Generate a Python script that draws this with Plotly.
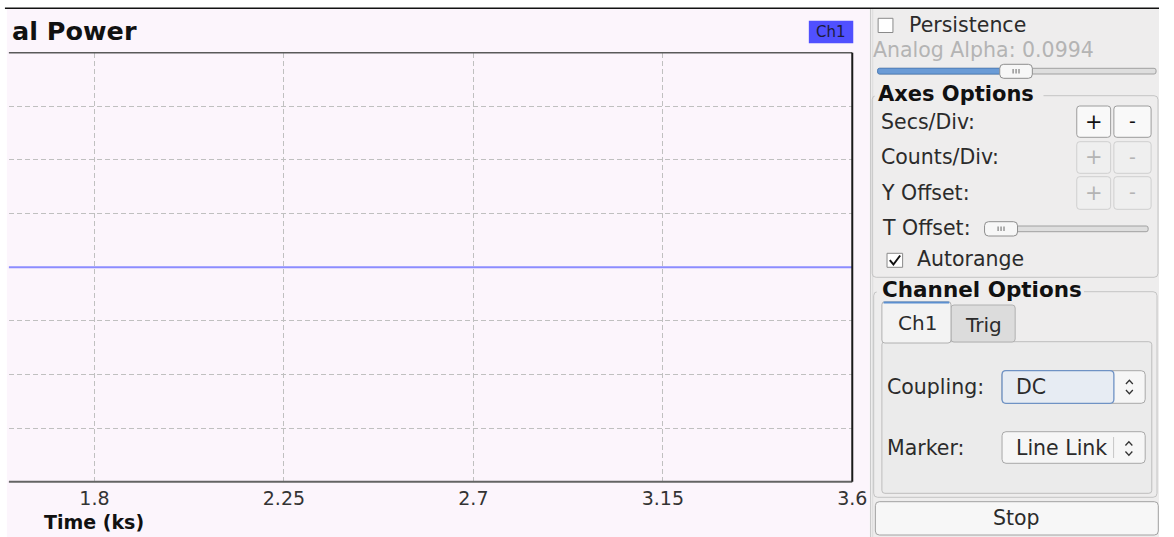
import plotly.graph_objects as go

# ---------------- data ----------------
t_ks = [0.0, 0.45, 0.9, 1.35, 1.8, 2.25, 2.7, 3.15, 3.6]
power = [0.0, 0.0, 0.0, 0.0, 0.0, 0.0, 0.0, 0.0, 0.0]
x_ticks = [1.8, 2.25, 2.7, 3.15, 3.6]
x_tick_labels = ["1.8", "2.25", "2.7", "3.15", "3.6"]
title_text = "al Power"
x_title = "Time (ks)"
legend_name = "Ch1"

W, H = 1174, 537
FONT = "DejaVu Sans"
PINK = "#fcf5fc"
GRAY = "#eeeded"
TXT = "#2b2b2b"
DIS = "#b4b4b4"


def px(x):
    return x / W


def py(y):
    return 1 - y / H


shapes = []
annos = []


def rect(x0, y0, x1, y1, fill=None, line=None, lw=1, layer="above"):
    shapes.append(dict(type="rect", xref="paper", yref="paper",
                       x0=px(x0), x1=px(x1), y0=py(y1), y1=py(y0),
                       fillcolor=fill or "rgba(0,0,0,0)",
                       line=dict(color=line or "rgba(0,0,0,0)", width=lw if line else 0),
                       layer=layer))


def rrect(x0, y0, x1, y1, r=3, fill=None, line="#a8a8a8", lw=1, layer="above"):
    p = (f"M {px(x0 + r)},{py(y0)} L {px(x1 - r)},{py(y0)} Q {px(x1)},{py(y0)} {px(x1)},{py(y0 + r)} "
         f"L {px(x1)},{py(y1 - r)} Q {px(x1)},{py(y1)} {px(x1 - r)},{py(y1)} "
         f"L {px(x0 + r)},{py(y1)} Q {px(x0)},{py(y1)} {px(x0)},{py(y1 - r)} "
         f"L {px(x0)},{py(y0 + r)} Q {px(x0)},{py(y0)} {px(x0 + r)},{py(y0)} Z")
    shapes.append(dict(type="path", xref="paper", yref="paper", path=p,
                       fillcolor=fill or "rgba(0,0,0,0)",
                       line=dict(color=line, width=lw), layer=layer))


def poly(pts, color, lw=1.2, closed=False):
    p = "M " + " L ".join(f"{px(a)},{py(b)}" for a, b in pts)
    if closed:
        p += " Z"
    shapes.append(dict(type="path", xref="paper", yref="paper", path=p,
                       line=dict(color=color, width=lw), layer="above"))


def hline(x0, x1, y, color, lw=1, layer="above"):
    shapes.append(dict(type="line", xref="paper", yref="paper", x0=px(x0), x1=px(x1),
                       y0=py(y), y1=py(y), line=dict(color=color, width=lw), layer=layer))


def vline(x, y0, y1, color, lw=1, layer="above"):
    shapes.append(dict(type="line", xref="paper", yref="paper", x0=px(x), x1=px(x),
                       y0=py(y0), y1=py(y1), line=dict(color=color, width=lw), layer=layer))


def text(x, y, s, size=20.5, color=TXT, bold=False, anchor="left", bg=None):
    a = dict(xref="paper", yref="paper", x=px(x), y=py(y), text=s, showarrow=False,
             xanchor=anchor, yanchor="middle",
             font=dict(family=FONT, size=size, color=color,
                       weight="bold" if bold else "normal"))
    if bg:
        a["bgcolor"] = bg
    annos.append(a)


# ---------------- backgrounds ----------------
rect(7, 9, 881, 537, fill=PINK, layer="below")
rect(881, 9, 1174, 537, fill=GRAY, layer="below")
hline(5, 1174, 8.3, "#111111", 1.5)
vline(881.8, 9, 537, "#c9c9c9", 1)
vline(884, 9, 537, "#dcdcdc", 1)

# ---------------- chart frame ----------------
PL, PR, PT, PB = 9, 863.3, 52.7, 481.7
hline(PL, PR, PT, "#5a5a5a", 1.5)
hline(PL, PR, PB, "#646464", 2)
vline(PR, PT, PB, "#1a1a1a", 2)

# title, legend tag, axis title
text(141, 31, title_text, size=25.5, color="#111111", bold=True, anchor="right")
rect(819.3, 20.7, 864.3, 43.3, fill="#5050ff")
text(842, 32, legend_name, size=15, color="#1c1c3c", anchor="center")
text(95, 522, x_title, size=19, color="#111111", bold=True, anchor="center")

# ---------------- right panel ----------------
# persistence
rect(889.5, 18.3, 904.5, 32.5, fill="#ffffff", line="#8a8a8a", lw=1)
text(919, 24.8, "Persistence")
text(882, 49.5, "Analog Alpha: 0.0994", color=DIS)
# alpha slider
rrect(889, 68.3, 1171, 74, r=2, fill="#dedede", line="#a0a0a0")
rrect(889, 68.3, 1015, 74, r=2, fill="#6a9bd6", line="#4f80bd")
rrect(1012.7, 64.3, 1045.7, 78.3, r=4, fill="#f7f7f7", line="#8e8e8e")
for dx in (-3, 0, 3):
    vline(1029.2 + dx, 69, 73.5, "#666666", 1)

# Axes Options group
rrect(883.5, 95.7, 1173, 277.3, r=4, fill=None, line="#c4c4c4")
rect(886, 86, 1057, 100, fill=GRAY)
text(887, 93.8, "Axes Options", size=21, color="#111111", bold=True)

rows = [(121.7, "Secs/Div:", True, 106, 137.3),
        (157.5, "Counts/Div:", False, 141.7, 173.3),
        (193.0, "Y Offset:", False, 176.7, 209.3)]
for yc, lab, enabled, y0, y1 in rows:
    text(890, yc, lab)
    bl = "#9c9c9c" if enabled else "#cfcfcf"
    bf = "#f9f9f9" if enabled else "#efefef"
    rrect(1090.7, y0, 1125, y1, r=3, fill=bf, line=bl)
    rrect(1128.3, y0, 1166, y1, r=3, fill=bf, line=bl)
    c = "#111111" if enabled else DIS
    text(1107.8, yc, "+", size=21, color=c, anchor="center")
    text(1147.1, yc - 1, "-", size=19, color=c, anchor="center")

text(891, 228, "T Offset:")
rrect(998, 226, 1163, 231.7, r=2, fill="#dedede", line="#a0a0a0")
rrect(997.3, 221.7, 1030.7, 236, r=4, fill="#f7f7f7", line="#8e8e8e")
for dx in (-3, 0, 3):
    vline(1014 + dx, 226.5, 231, "#666666", 1)

rect(898.5, 253.3, 914.3, 267.3, fill="#ffffff", line="#8a8a8a", lw=1)
poly([(901.3, 260.2), (905, 264.5), (911.8, 255.5)], "#111111", 2)
text(927, 258.6, "Autorange")

# Channel Options group
rrect(885, 291.7, 1172, 497.3, r=4, fill=None, line="#c4c4c4")
rect(888, 281, 1098, 297, fill=GRAY)
text(891, 289.7, "Channel Options", size=21.5, color="#111111", bold=True)

# tab pane and tabs
rrect(893.3, 341.7, 1166.7, 493.3, r=3, fill="#ebebeb", line="#bdbdbd")
rrect(963.3, 305, 1028.3, 342, r=3, fill="#dcdcdc", line="#b0b0b0")
rrect(893.3, 301.7, 963.3, 343, r=3, fill="#f3f3f3", line="#b0b0b0")
hline(895, 961.5, 302.5, "#5b8fd0", 2)
text(929.3, 322.5, "Ch1", size=20, anchor="center")
text(996.5, 324.5, "Trig", size=20, anchor="center")

# coupling
text(896, 386.7, "Coupling:")
rrect(1015, 370.7, 1160, 403.3, r=4, fill="#f6f6f6", line="#a8a8a8")
rrect(1015, 370.7, 1128.3, 403.3, r=4, fill="#e7ecf3", line="#6f92c4", lw=1.3)
text(1027, 386.7, "DC")
poly([(1140.5, 384), (1144, 380.3), (1147.5, 384)], "#333333", 1.3)
poly([(1140.5, 390), (1144, 393.7), (1147.5, 390)], "#333333", 1.3)

# marker
text(896, 448.3, "Marker:")
rrect(1015, 431.7, 1160, 463.3, r=4, fill="#f6f6f6", line="#a8a8a8")
text(1027, 447.5, "Line Link")
vline(1128, 437, 458, "#c6c6c6", 1)
poly([(1140, 445.5), (1143.5, 441.8), (1147, 445.5)], "#333333", 1.3)
poly([(1140, 451.5), (1143.5, 455.2), (1147, 451.5)], "#333333", 1.3)

# stop button
rrect(886.7, 501.7, 1173.3, 535, r=4, fill="#f7f7f7", line="#a2a2a2")
text(1030, 518.2, "Stop", anchor="center")

# ---------------- figure ----------------
fig = go.Figure()
fig.add_trace(go.Scatter(x=t_ks, y=power, mode="lines", name=legend_name,
                         line=dict(color="#8c8cff", width=2), showlegend=False,
                         hoverinfo="skip"))

x_left = 1.8 - (95.7 - PL) / ((PR - 95.7) / 1.8)

fig.update_layout(
    width=W, height=H, autosize=False,
    margin=dict(l=0, r=0, t=0, b=0),
    paper_bgcolor="#ffffff",
    plot_bgcolor="rgba(0,0,0,0)",
    showlegend=False,
    shapes=shapes,
    annotations=annos,
    font=dict(family=FONT),
    xaxis=dict(domain=[px(PL), px(PR)], range=[x_left, 3.6], tickvals=x_ticks,
               ticktext=x_tick_labels, showgrid=True, gridcolor="#c0c0c0",
               griddash="5px,3px", gridwidth=1, zeroline=False, showline=False,
               ticks="", tickfont=dict(family=FONT, size=19, color="#333333"),
               ticklabelstandoff=3, fixedrange=True),
    yaxis=dict(domain=[py(PB), py(PT)], range=[-1, 1], dtick=0.25, tick0=0,
               showgrid=True, gridcolor="#c0c0c0", griddash="5px,3px", gridwidth=1,
               zeroline=False, showline=False, showticklabels=False, ticks="",
               fixedrange=True),
)

js = (
    "var s=document.documentElement.style;s.margin='0';s.padding='0';s.overflow='hidden';"
    "var b=document.body.style;b.margin='0';b.padding='0';b.overflow='hidden';"
)

fig.write_html(
    "out.html",
    config={"displayModeBar": False, "staticPlot": True, "responsive": False},
    default_width="1174px",
    default_height="537px",
    post_script=js,
)
